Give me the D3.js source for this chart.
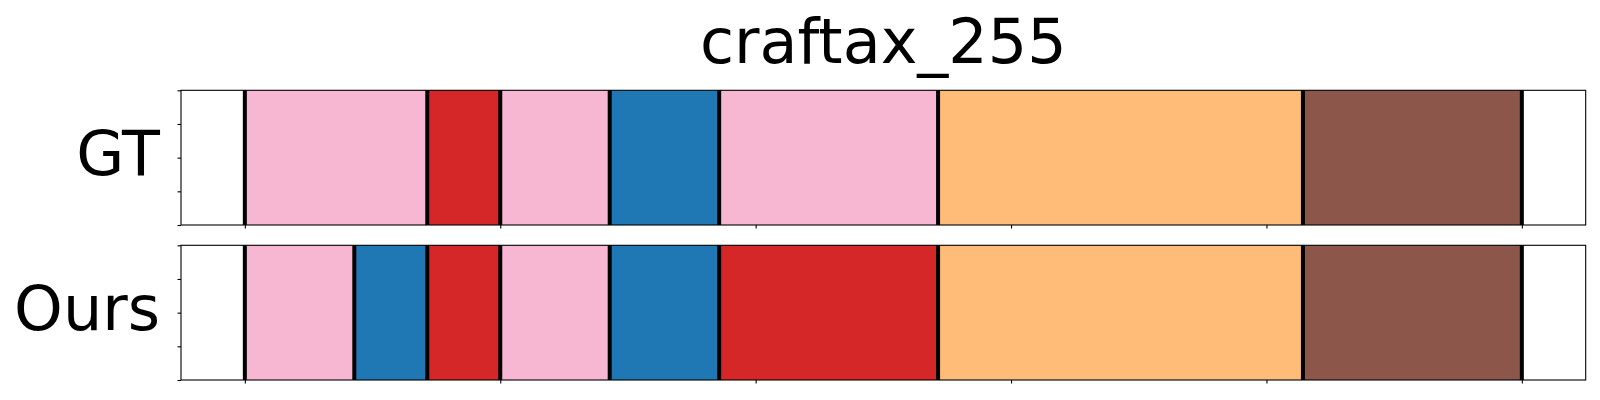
<!DOCTYPE html>
<html>
<head>
<meta charset="utf-8">
<script src="https://cdn.jsdelivr.net/npm/d3@7"></script>
<style>
  html, body { margin: 0; padding: 0; background: #fff; }
  svg { display: block; font-family: "DejaVu Sans", sans-serif; }
</style>
</head>
<body>
<svg id="chart" width="1600" height="400"></svg>
<script>
// ---- data ----
const title = "craftax_255";
const rowLabels = ["GT", "Ours"];
const xTicks = [0, 7, 14, 21, 28, 35];
const yTicks = [0, 0.25, 0.5, 0.75, 1];
// segment boundaries (steps) and class ids (tab20 index)
const gtBounds = [0, 5, 7, 10, 13, 19, 29, 35];
const gtClasses = [13, 6, 13, 0, 13, 3, 10];
const oursBounds = [0, 3, 5, 7, 10, 13, 19, 29, 35];
const oursClasses = [13, 0, 6, 13, 0, 6, 3, 10];
const tab20 = ["#1f77b4","#aec7e8","#ff7f0e","#ffbb78","#2ca02c","#98df8a","#d62728","#ff9896",
               "#9467bd","#c5b0d5","#8c564b","#c49c94","#e377c2","#f7b6d2","#7f7f7f","#c7c7c7",
               "#bcbd22","#dbdb8d","#17becf","#9edae5"];

const rows = [
  { label: rowLabels[0], bounds: gtBounds, classes: gtClasses },
  { label: rowLabels[1], bounds: oursBounds, classes: oursClasses }
];

const svg = d3.select("#chart");
const left = 181, right = 1585.7;
const panels = [{ top: 90.3, bottom: 225 }, { top: 245.3, bottom: 380 }];

const span = xTicks[xTicks.length - 1] - xTicks[0];
const x = d3.scaleLinear()
  .domain([xTicks[0] - 0.05 * span, xTicks[xTicks.length - 1] + 0.05 * span])
  .range([left, right]);

svg.append("text")
  .attr("x", (left + right) / 2).attr("y", 62.7)
  .attr("text-anchor", "middle")
  .attr("font-size", 62)
  .attr("fill", "#000")
  .text(title);

rows.forEach((row, i) => {
  const p = panels[i];
  const y = d3.scaleLinear().domain([0, 1]).range([p.bottom, p.top]);
  const g = svg.append("g");

  const segs = row.classes.map((c, k) => ({ x0: row.bounds[k], x1: row.bounds[k + 1], c }));
  g.selectAll("rect.seg").data(segs).join("rect")
    .attr("class", "seg")
    .attr("x", d => x(d.x0))
    .attr("width", d => x(d.x1) - x(d.x0))
    .attr("y", y(1))
    .attr("height", y(0) - y(1))
    .attr("fill", d => tab20[d.c]);

  g.selectAll("line.bd").data(row.bounds).join("line")
    .attr("class", "bd")
    .attr("x1", d => x(d)).attr("x2", d => x(d))
    .attr("y1", y(1)).attr("y2", y(0))
    .attr("stroke", "#000").attr("stroke-width", 4);

  // axes
  const xa = g.append("g").attr("transform", `translate(0,${p.bottom})`)
    .call(d3.axisBottom(x).tickValues(xTicks).tickFormat("").tickSizeInner(3.5).tickSizeOuter(0));
  const ya = g.append("g").attr("transform", `translate(${left},0)`)
    .call(d3.axisLeft(y).tickValues(yTicks).tickFormat("").tickSizeInner(3.5).tickSizeOuter(0));
  [xa, ya].forEach(a => {
    a.select(".domain").remove();
    a.selectAll(".tick line").attr("stroke", "#000").attr("stroke-width", 1.1);
  });

  g.append("rect")
    .attr("x", left).attr("y", p.top)
    .attr("width", right - left).attr("height", p.bottom - p.top)
    .attr("fill", "none").attr("stroke", "#000").attr("stroke-width", 1.1);

  g.append("text")
    .attr("x", 160).attr("y", (p.top + p.bottom) / 2 + 17)
    .attr("text-anchor", "end")
    .attr("font-size", 62)
    .attr("fill", "#000")
    .text(row.label);
});
</script>
</body>
</html>
